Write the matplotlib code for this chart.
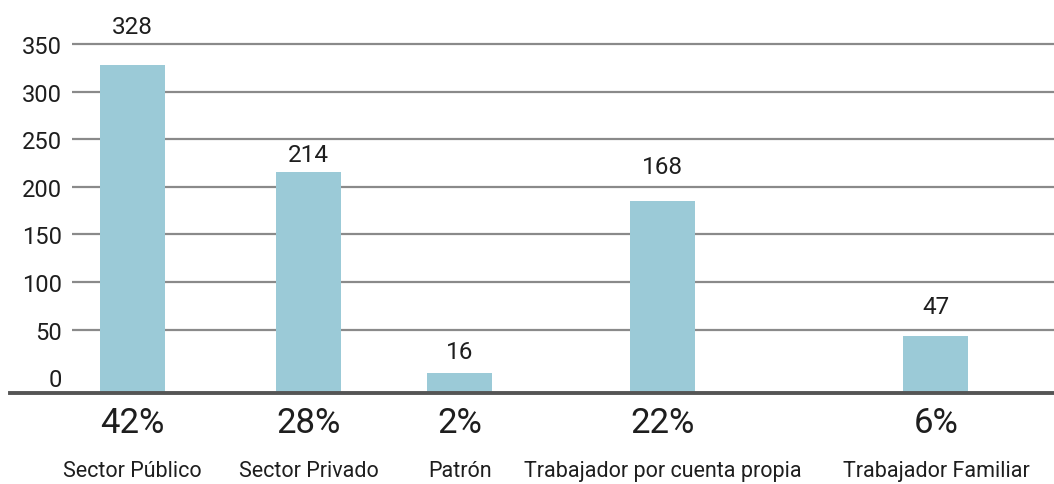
import matplotlib
matplotlib.use("Agg")
import matplotlib.pyplot as plt

# ── DATA ──────────────────────────────────────────────
categories = ["Sector Público", "Sector Privado", "Patrón",
              "Trabajador por cuenta propia", "Trabajador Familiar"]
value_labels = [328, 214, 16, 168, 47]          # numbers printed above bars
bar_tops = [328, 216, 5, 185, 43]               # where the bars end on the y scale
percents = ["42%", "28%", "2%", "22%", "6%"]
y_ticks = [0, 50, 100, 150, 200, 250, 300, 350]

# ── LAYOUT (pixels) ───────────────────────────────────
W, H, DPI = 1054, 485, 100
x_pos = [60.5, 236.5, 388, 590.5, 864]          # bar centres, px from axes left
label_gap = [38, 17, 21, 35, 30]                # px between bar top and value label
PX = 72.0 / DPI                                 # px -> points

plt.rcParams["font.family"] = ["Roboto", "DejaVu Sans"]

BAR_COLOUR = "#9BCAD7"
GRID_COLOUR = "#8a8a8a"
TEXT = "#1e1e1e"

fig = plt.figure(figsize=(W / DPI, H / DPI), dpi=DPI)
ax_left, ax_bottom = 72 / W, (H - 394) / H
ax = fig.add_axes([ax_left, ax_bottom, 1 - ax_left, 394 / H])

# y scale: 350 at px 45, 0 at px 378.3
ppu = (378.3 - 45) / 350
y_base = -(394 - 378.3) / ppu
y_top = 378.3 / ppu
ax.set_ylim(y_base, y_top)
ax.set_xlim(0, W - 72)

for t in y_ticks[1:]:
    ax.axhline(t, color=GRID_COLOUR, lw=1.6, zorder=1)

ax.bar(x_pos, [b - y_base for b in bar_tops], bottom=y_base, width=65,
       color=BAR_COLOUR, zorder=2)

# baseline, reaching left past the tick labels
ax.axhline(y_base, xmin=(10 - 72) / (W - 72), xmax=1, color="#555555",
           lw=2.8, clip_on=False, zorder=3)

for sp in ax.spines.values():
    sp.set_visible(False)
ax.set_xticks([])
ax.set_yticks(y_ticks)
ax.set_yticklabels([str(t) for t in y_ticks], fontsize=17, color=TEXT)
ax.tick_params(axis="y", length=0, pad=7)

for x, top, lab, gap in zip(x_pos, bar_tops, value_labels, label_gap):
    ax.annotate(str(lab), xy=(x, top), xytext=(0, gap * PX),
                textcoords="offset points", ha="center", va="center",
                fontsize=17.5, color=TEXT)

for x, pct, cat in zip(x_pos, percents, categories):
    ax.annotate(pct, xy=(x, 0), xycoords=("data", "axes fraction"),
                xytext=(0, -30 * PX), textcoords="offset points",
                ha="center", va="center", fontsize=25, color=TEXT)
    ax.annotate(cat, xy=(x, 0), xycoords=("data", "axes fraction"),
                xytext=(0, -78 * PX), textcoords="offset points",
                ha="center", va="center", fontsize=15.5, color=TEXT)

fig.savefig("out.png", dpi=DPI)
